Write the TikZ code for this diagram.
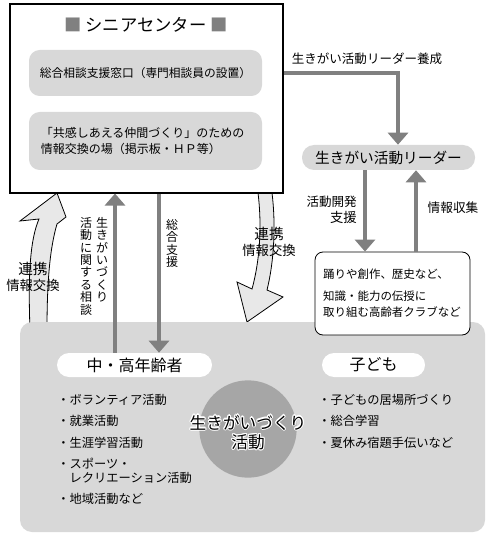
\documentclass[tikz,border=0pt]{standalone}
\usepackage{fontspec}
\newfontfamily\jp{Noto Sans CJK JP}
\usetikzlibrary{arrows.meta}
\definecolor{boxgray}{HTML}{D8D8D8}
\definecolor{flowgray}{HTML}{808080}
\definecolor{circgray}{HTML}{A6A6A6}
\definecolor{widegray}{HTML}{E8E8E8}
\newcommand{\fs}[2]{\fontsize{#1}{#2}\selectfont}

\begin{document}
\begin{tikzpicture}[x=0.75pt,y=-0.75pt,font=\jp,
  graybox/.style={fill=boxgray,rounded corners=8pt,inner sep=0pt},
  pill/.style={fill=white,rounded corners=9pt,inner sep=0pt,minimum height=18pt},
  flow/.style={draw=flowgray,line width=3pt,-{Triangle[width=15pt,length=9pt]}},
  wide/.style={fill=widegray,draw=black,line width=0.6pt},
  vert/.style={align=center,inner sep=0pt,anchor=north,font=\jp\fs{9}{9.3}},
  acttext/.style={align=center,inner sep=0pt,font=\jp\fs{12.5}{14.5}}]
\useasboundingbox (0,0) rectangle (493,541);

\draw[wide] (30,330) .. controls (28,275) and (30,240) .. (39,219) -- (20,221) -- (57,193) -- (66,217) -- (57,224) .. controls (50,248) and (47,280) .. (47,330) -- cycle;
\draw[wide] (258,193) .. controls (262,225) and (260,260) .. (252,289) -- (237,282) -- (247,322) -- (283,297) -- (267,290) .. controls (274,262) and (276,225) .. (272,193) -- cycle;

\node[fill=boxgray,rounded corners=9pt,minimum width=348.75pt,minimum height=157.5pt] (base) at (252.5,427) {};
\node[draw,line width=0.8pt,minimum width=204.75pt,minimum height=141.75pt] (senior) at (146.5,98.5) {};
\node (title) at (146,25) {\fs{13}{15}{\color{flowgray}■} シニアセンター {\color{flowgray}■}};
\node[graybox,minimum width=174.75pt,minimum height=34.5pt] (window) at (145.5,73) {\fs{8.8}{10}総合相談支援窓口（専門相談員の設置）};
\node[graybox,minimum width=174.75pt,minimum height=43.5pt,text width=157pt,align=left] (forum) at (145.5,141) {\fs{9}{15}「共感しあえる仲間づくり」のための\\情報交換の場（掲示板・ＨＰ等）};

\node[graybox,rounded corners=9pt,minimum width=129.75pt,minimum height=18.75pt] (leader) at (388.5,157.5) {\fs{11}{13}生きがい活動リーダー};
\node[draw,fill=white,rounded corners=6pt,line width=0.6pt,minimum width=116.25pt,minimum height=62.25pt,text width=104pt,align=left,inner sep=0pt] (club) at (392.5,293.5) {\fs{8.6}{16.5}踊りや創作、歴史など、\\知識・能力の伝授に\\取り組む高齢者クラブなど};

\node[pill,minimum width=116.25pt] (mid) at (134.5,365) {\fs{12}{14}中・高年齢者};
\node[pill,minimum width=77.25pt] (kids) at (373.5,365) {\fs{12}{14}子ども};

\node[circle,fill=circgray,minimum size=73pt,inner sep=0pt] (act) at (248,429) {};
\foreach \a in {0,30,...,330}
  \node[acttext,text=white] at ([shift={(\a:0.8pt)},yshift=-2.5pt]act.center) {生きがいづくり\\活動};
\node[acttext] (acttitle) at ([yshift=-2.5pt]act.center) {生きがいづくり\\活動};

\node[anchor=north west,align=left,inner sep=0pt,font=\jp\fs{9.2}{10.5}] (midlist) at (57,394) {・ボランティア活動\\[5.5pt]・就業活動\\[5.5pt]・生涯学習活動\\[5.5pt]・スポーツ・\\\phantom{・}レクリエーション活動\\[5.5pt]・地域活動など};
\node[anchor=north west,align=left,inner sep=0pt,font=\jp\fs{9.2}{10.5}] (kidslist) at (318,394) {・子どもの居場所づくり\\[5.5pt]・総合学習\\[5.5pt]・夏休み宿題手伝いなど};

\coordinate (ax1) at (115,0);
\coordinate (ax2) at (159,0);
\coordinate (ax3) at (398,0);
\coordinate (ax4) at (365,0);
\coordinate (ax5) at (416,0);
\draw[flow] (mid.north -| ax1) -- (senior.south -| ax1);
\draw[flow] (senior.south -| ax2) -- (mid.north -| ax2);
\draw[flow] (senior.east |- window.east) -| (ax3 |- leader.north);
\draw[flow] (leader.south -| ax4) -- (club.north -| ax4);
\draw[flow] (club.north -| ax5) -- (leader.south -| ax5);

\node (trainlbl) at (367,59) {\fs{9.4}{11}生きがい活動リーダー養成};
\node[align=right,anchor=east,inner sep=0pt] (devlbl) at (357,210) {\fs{9.4}{10.5}活動開発\\支援};
\node (infolbl) at (453,208) {\fs{9.5}{11}情報収集};
\node[align=center] (linkL) at (33,277) {\fs{11}{14.25}連携\\情報交換};
\node[align=center] (linkR) at (269,242) {\fs{11}{12.75}連携\\情報交換};
\node[vert] (q1) at (102,217) {生\\き\\が\\い\\づ\\く\\り};
\node[vert] (q2) at (86,217) {活\\動\\に\\関\\す\\る\\相\\談};
\node[vert] (q3) at (172,219) {総\\合\\支\\援};
\end{tikzpicture}
\end{document}
